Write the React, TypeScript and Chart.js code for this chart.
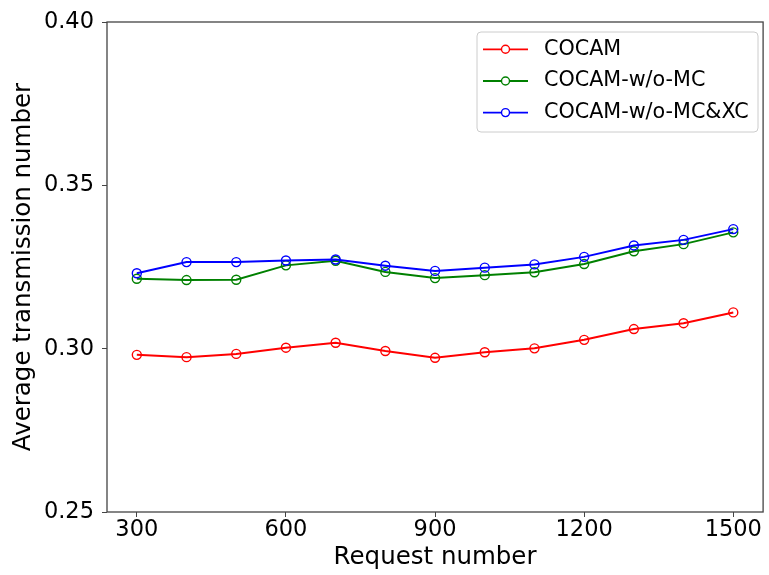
import React, { useEffect, useRef } from 'react';
import { Chart, registerables } from 'chart.js';

Chart.register(...registerables);

const requests = [300, 400, 500, 600, 700, 800, 900, 1000, 1100, 1200, 1300, 1400, 1500];
const cocam = [0.2981, 0.2974, 0.2984, 0.3003, 0.3018, 0.2993, 0.2972, 0.2989, 0.3001, 0.3027, 0.306, 0.3078, 0.3111];
const cocamNoMC = [0.3214, 0.321, 0.3211, 0.3255, 0.3269, 0.3235, 0.3216, 0.3225, 0.3234, 0.3259, 0.3298, 0.332, 0.3356];
const cocamNoMCXC = [0.3231, 0.3265, 0.3265, 0.327, 0.3273, 0.3254, 0.3238, 0.3248, 0.3258, 0.3281, 0.3316, 0.3333, 0.3366];
const seriesNames = ['COCAM', 'COCAM-w/o-MC', 'COCAM-w/o-MC&XC'];
const seriesColors = ['#ff0000', '#008000', '#0000ff'];
const xTicks = [300, 600, 900, 1200, 1500];
const yTicks = [0.25, 0.3, 0.35, 0.4];
const xTitle = 'Request number';
const yTitle = 'Average transmission number';

const FONT = "'DejaVu Sans', sans-serif";

const frameAndLegend = {
  id: 'frameAndLegend',
  afterDraw(chart: any) {
    const { ctx, chartArea } = chart;
    ctx.save();
    ctx.strokeStyle = '#444';
    ctx.lineWidth = 1.3;
    ctx.strokeRect(chartArea.left, chartArea.top, chartArea.right - chartArea.left, chartArea.bottom - chartArea.top);

    // legend
    const bx = 477, by = 32, bw = 281, bh = 100;
    ctx.beginPath();
    ctx.roundRect(bx, by, bw, bh, 4);
    ctx.fillStyle = 'rgba(255,255,255,0.8)';
    ctx.fill();
    ctx.strokeStyle = '#cccccc';
    ctx.lineWidth = 1;
    ctx.stroke();
    const rows = [49.3, 81, 112.6];
    seriesNames.forEach((name, i) => {
      const y = rows[i];
      ctx.strokeStyle = seriesColors[i];
      ctx.lineWidth = 1.8;
      ctx.beginPath();
      ctx.moveTo(483, y);
      ctx.lineTo(528, y);
      ctx.stroke();
      ctx.beginPath();
      ctx.arc(505.5, y, 4, 0, Math.PI * 2);
      ctx.fillStyle = '#ffffff';
      ctx.fill();
      ctx.lineWidth = 1.4;
      ctx.stroke();
      ctx.fillStyle = '#000';
      ctx.font = `20.7px ${FONT}`;
      ctx.textBaseline = 'middle';
      ctx.textAlign = 'left';
      ctx.fillText(name, 544, y);
    });
    ctx.restore();
  },
};

export default function App() {
  const ref = useRef<HTMLCanvasElement | null>(null);
  useEffect(() => {
    if (!ref.current) return;
    const series = [cocam, cocamNoMC, cocamNoMCXC];
    const chart = new Chart(ref.current, {
      type: 'line',
      data: {
        datasets: series.map((vals, i) => ({
          label: seriesNames[i],
          data: requests.map((x, j) => ({ x, y: vals[j] })),
          borderColor: seriesColors[i],
          backgroundColor: 'transparent',
          pointBackgroundColor: 'transparent',
          pointBorderColor: seriesColors[i],
          pointRadius: 4.5,
          pointBorderWidth: 1.4,
          borderWidth: 2,
          tension: 0,
          order: 3 - i,
        })),
      },
      options: {
        animation: false,
        responsive: false,
        devicePixelRatio: 1,
        layout: { padding: { top: 22, right: 2, left: 0, bottom: 0 } },
        plugins: { legend: { display: false }, tooltip: { enabled: false } },
        scales: {
          x: {
            type: 'linear',
            min: 240,
            max: 1560,
            afterBuildTicks: (scale: any) => {
              scale.ticks = xTicks.map((v) => ({ value: v }));
            },
            afterFit: (scale: any) => {
              scale.height = 63;
            },
            grid: { drawOnChartArea: false, drawTicks: true, tickLength: 5, tickColor: '#444' },
            border: { display: false },
            ticks: {
              color: '#000',
              padding: 0,
              maxRotation: 0,
              autoSkip: false,
              font: { family: FONT, size: 22.5 },
              callback: (v: any) => String(v),
            },
            title: {
              display: true,
              text: xTitle,
              color: '#000',
              font: { family: FONT, size: 24.5 },
              padding: { top: 0, bottom: 3 },
            },
          },
          y: {
            type: 'linear',
            min: 0.25,
            max: 0.4,
            afterBuildTicks: (scale: any) => {
              scale.ticks = yTicks.map((v) => ({ value: v }));
            },
            afterFit: (scale: any) => {
              scale.width = 107;
            },
            grid: { drawOnChartArea: false, drawTicks: true, tickLength: 5, tickColor: '#444' },
            border: { display: false },
            ticks: {
              color: '#000',
              padding: 8,
              font: { family: FONT, size: 22.5 },
              callback: (v: any) => Number(v).toFixed(2),
            },
            title: {
              display: true,
              text: yTitle,
              color: '#000',
              font: { family: FONT, size: 24.5 },
              padding: { top: 9, bottom: 0 },
            },
          },
        },
      },
      plugins: [frameAndLegend],
    });
    return () => chart.destroy();
  }, []);
  return (
    <div style={{ position: 'fixed', left: 0, top: 0, width: 769, height: 575, background: '#fff' }}>
      <canvas ref={ref} width={769} height={575} />
    </div>
  );
}
